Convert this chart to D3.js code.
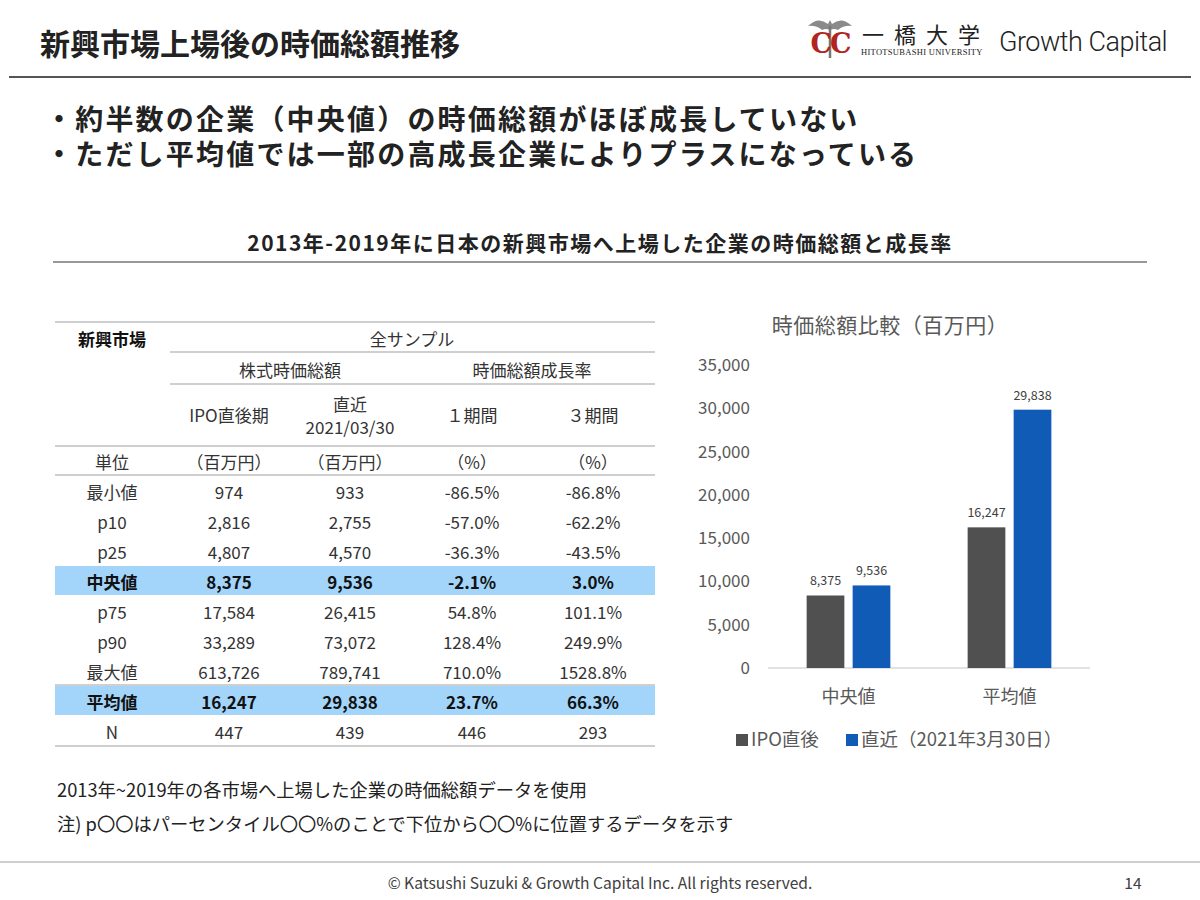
<!DOCTYPE html>
<html>
<head>
<meta charset="utf-8">
<script src="https://cdn.jsdelivr.net/npm/d3@7"></script>
<style>
  body { margin: 0; background: #fff; }
  svg { display: block; font-family: "Noto Sans CJK JP", "Noto Sans", sans-serif; }
</style>
</head>
<body>
<svg id="slide" width="1200" height="900"></svg>
<script>
// table data
const headerCols = ["IPO直後期", "直近", "１期間", "３期間"];
const unitRow = ["単位", "（百万円）", "（百万円）", "（%）", "（%）"];
const rowLabels = ["最小値", "p10", "p25", "中央値", "p75", "p90", "最大値", "平均値", "N"];
const ipoValues = ["974", "2,816", "4,807", "8,375", "17,584", "33,289", "613,726", "16,247", "447"];
const recentValues = ["933", "2,755", "4,570", "9,536", "26,415", "73,072", "789,741", "29,838", "439"];
const growth1Values = ["-86.5%", "-57.0%", "-36.3%", "-2.1%", "54.8%", "128.4%", "710.0%", "23.7%", "446"];
const growth3Values = ["-86.8%", "-62.2%", "-43.5%", "3.0%", "101.1%", "249.9%", "1528.8%", "66.3%", "293"];
const highlightRows = ["中央値", "平均値"];

// bar chart data
const categories = ["中央値", "平均値"];
const seriesNames = ["IPO直後", "直近（2021年3月30日）"];
const ipoBars = [8375, 16247];
const recentBars = [9536, 29838];
const yTicks = [0, 5000, 10000, 15000, 20000, 25000, 30000, 35000];

const svg = d3.select("#slide");
const textColor = "#333";

// ---- header ----
svg.append("text")
    .attr("x", 40).attr("y", 55)
    .attr("font-size", 30).attr("font-weight", "bold").attr("fill", "#222")
    .text("新興市場上場後の時価総額推移");

svg.append("line")
    .attr("x1", 9).attr("x2", 1191).attr("y1", 77).attr("y2", 77)
    .attr("stroke", "#555").attr("stroke-width", 2);

// logo (simplified emblem)
const logo = svg.append("g").attr("transform", "translate(806,16)");
logo.append("path")
    .attr("d", "M2,10 Q12,0 22,8 L24,4 L26,8 Q36,0 46,10 Q38,9 32,14 Q28,12 24,14 Q20,12 16,14 Q10,9 2,10 Z")
    .attr("fill", "#8a8a8a");
logo.append("line")
    .attr("x1", 24).attr("x2", 24).attr("y1", 10).attr("y2", 42)
    .attr("stroke", "#777").attr("stroke-width", 2.5);
logo.append("text")
    .attr("x", 24).attr("y", 37)
    .attr("text-anchor", "middle")
    .attr("font-family", "DejaVu Serif, serif").attr("font-weight", "bold")
    .attr("font-size", 27).attr("fill", "#b0261f")
    .attr("letter-spacing", -2)
    .text("CC");

svg.append("text")
    .attr("x", 862).attr("y", 43)
    .attr("font-size", 22).attr("fill", "#222")
    .attr("letter-spacing", 10)
    .text("一橋大学");
svg.append("text")
    .attr("x", 861).attr("y", 55)
    .attr("font-family", "Liberation Serif, serif")
    .attr("font-size", 8.5).attr("fill", "#222")
    .attr("letter-spacing", 0.3)
    .text("HITOTSUBASHI UNIVERSITY");
svg.append("text")
    .attr("x", 999).attr("y", 51)
    .attr("font-family", "Roboto, sans-serif").attr("font-weight", 300)
    .attr("font-size", 27).attr("fill", "#222")
    .attr("letter-spacing", -0.5)
    .text("Growth Capital");

// ---- bullets (one text block, two lines) ----
const bullets = [
    "・約半数の企業（中央値）の時価総額がほぼ成長していない",
    "・ただし平均値では一部の高成長企業によりプラスになっている"
];
svg.append("text")
    .attr("y", 130)
    .attr("font-size", 28).attr("font-weight", "bold").attr("fill", "#222")
    .attr("letter-spacing", 2.2)
    .selectAll("tspan")
    .data(bullets)
    .join("tspan")
    .attr("x", 45)
    .attr("dy", (d, i) => i === 0 ? 0 : 35)
    .text(d => d);

// ---- subtitle ----
svg.append("text")
    .attr("x", 600).attr("y", 251)
    .attr("text-anchor", "middle")
    .attr("font-size", 21).attr("font-weight", "bold").attr("fill", "#222")
    .attr("letter-spacing", 1.5)
    .text("2013年-2019年に日本の新興市場へ上場した企業の時価総額と成長率");
svg.append("line")
    .attr("x1", 53).attr("x2", 1147).attr("y1", 262).attr("y2", 262)
    .attr("stroke", "#777").attr("stroke-width", 1.5);

// ---- table ----
const tbl = svg.append("g").attr("font-size", 17).attr("fill", textColor);
const tLeft = 55, tRight = 655, subLeft = 170;
const colX = [112, 229, 350, 472, 593];
const rowTop = 475, rowH = 30;

// highlight bands
rowLabels.forEach((r, i) => {
    if (highlightRows.includes(r)) {
        tbl.append("rect")
            .attr("x", tLeft).attr("width", tRight - tLeft)
            .attr("y", rowTop + i * rowH + 1).attr("height", rowH - 1)
            .attr("fill", "#a3d5fb");
    }
});

const hline = (x1, x2, y, w) => tbl.append("line")
    .attr("x1", x1).attr("x2", x2).attr("y1", y).attr("y2", y)
    .attr("stroke", "#bfbfbf").attr("stroke-width", w || 1.5);
hline(tLeft, tRight, 322);
hline(subLeft, tRight, 352);
hline(subLeft, tRight, 384);
hline(tLeft, tRight, 446);
hline(tLeft, tRight, rowTop);
hline(tLeft, tRight, rowTop + 7 * rowH);
hline(tLeft, tRight, rowTop + 9 * rowH + 1);

const cell = (x, y, t, bold) => tbl.append("text")
    .attr("x", x).attr("y", y)
    .attr("text-anchor", "middle").attr("dominant-baseline", "central")
    .attr("font-weight", bold ? "bold" : null)
    .attr("fill", bold ? "#111" : textColor)
    .text(t);

cell(112, 338, "新興市場", true);
cell(412, 338, "全サンプル");
cell(290, 369, "株式時価総額");
cell(532, 369, "時価総額成長率");
cell(colX[1], 414, headerCols[0]);
cell(colX[2], 403, headerCols[1]);
cell(colX[2], 426, "2021/03/30");
cell(colX[3], 414, headerCols[2]);
cell(colX[4], 414, headerCols[3]);
unitRow.forEach((t, j) => cell(colX[j], 461, t));

rowLabels.forEach((r, i) => {
    const y = rowTop + i * rowH + rowH / 2 + 1;
    const bold = highlightRows.includes(r);
    [r, ipoValues[i], recentValues[i], growth1Values[i], growth3Values[i]]
        .forEach((t, j) => cell(colX[j], y, t, bold));
});

// ---- bar chart ----
const chart = svg.append("g");
const labelColor = "#595959";
const barColors = ["#505050", "#0f5bb6"];

chart.append("text")
    .attr("x", 890).attr("y", 333)
    .attr("text-anchor", "middle")
    .attr("font-size", 21).attr("fill", labelColor)
    .attr("letter-spacing", 0.5)
    .text("時価総額比較（百万円）");

const x0 = d3.scaleBand().domain(categories).range([768, 1090])
    .paddingInner(0.48).paddingOuter(0.24);
const x1 = d3.scaleBand().domain(seriesNames).range([0, x0.bandwidth()])
    .paddingInner(0.18);
const y = d3.scaleLinear().domain([0, 35000]).range([668, 365]);

const yAxis = chart.append("g")
    .attr("transform", "translate(752,0)")
    .call(d3.axisLeft(y).tickValues(yTicks).tickSize(0).tickPadding(2)
        .tickFormat(d3.format(",")));
yAxis.select(".domain").remove();
yAxis.selectAll("text")
    .attr("font-size", 17).attr("fill", labelColor)
    .attr("font-family", "Noto Sans CJK JP, sans-serif");

chart.append("line")
    .attr("x1", 768).attr("x2", 1090).attr("y1", y(0)).attr("y2", y(0))
    .attr("stroke", "#d9d9d9").attr("stroke-width", 1.5);

const barData = categories.flatMap((c, i) => [
    { cat: c, series: seriesNames[0], value: ipoBars[i], color: barColors[0] },
    { cat: c, series: seriesNames[1], value: recentBars[i], color: barColors[1] }
]);

chart.selectAll("rect.bar")
    .data(barData)
    .join("rect")
    .attr("class", "bar")
    .attr("x", d => x0(d.cat) + x1(d.series))
    .attr("width", x1.bandwidth())
    .attr("y", d => y(d.value))
    .attr("height", d => y(0) - y(d.value))
    .attr("fill", d => d.color);

chart.selectAll("text.val")
    .data(barData)
    .join("text")
    .attr("class", "val")
    .attr("x", d => x0(d.cat) + x1(d.series) + x1.bandwidth() / 2)
    .attr("y", d => y(d.value) - 10)
    .attr("text-anchor", "middle")
    .attr("font-size", 12.5).attr("fill", "#404040")
    .text(d => d3.format(",")(d.value));

chart.selectAll("text.cat")
    .data(categories)
    .join("text")
    .attr("class", "cat")
    .attr("x", d => x0(d) + x0.bandwidth() / 2)
    .attr("y", 703)
    .attr("text-anchor", "middle")
    .attr("font-size", 18).attr("fill", labelColor)
    .text(d => d);

// legend
const legendX = [736, 846];
seriesNames.forEach((s, i) => {
    chart.append("rect")
        .attr("x", legendX[i]).attr("y", 734)
        .attr("width", 12).attr("height", 12)
        .attr("fill", barColors[i]);
    chart.append("text")
        .attr("x", legendX[i] + 15).attr("y", 746)
        .attr("font-size", 18.5).attr("fill", labelColor)
        .text(s);
});

// ---- notes & footer ----
const notes = [
    "2013年~2019年の各市場へ上場した企業の時価総額データを使用",
    "注) p〇〇はパーセンタイル〇〇%のことで下位から〇〇%に位置するデータを示す"
];
svg.selectAll("text.note")
    .data(notes)
    .join("text")
    .attr("class", "note")
    .attr("x", 57)
    .attr("y", (d, i) => 797 + i * 34)
    .attr("font-size", 18.3).attr("fill", "#222")
    .text(d => d);

svg.append("line")
    .attr("x1", 0).attr("x2", 1200).attr("y1", 862).attr("y2", 862)
    .attr("stroke", "#bfbfbf").attr("stroke-width", 1.5);
svg.append("text")
    .attr("x", 600).attr("y", 889)
    .attr("text-anchor", "middle")
    .attr("font-size", 15.6).attr("fill", "#404040")
    .text("© Katsushi Suzuki & Growth Capital Inc. All rights reserved.");
svg.append("text")
    .attr("x", 1133).attr("y", 889)
    .attr("text-anchor", "middle")
    .attr("font-size", 15.6).attr("fill", "#404040")
    .text("14");
</script>
</body>
</html>
